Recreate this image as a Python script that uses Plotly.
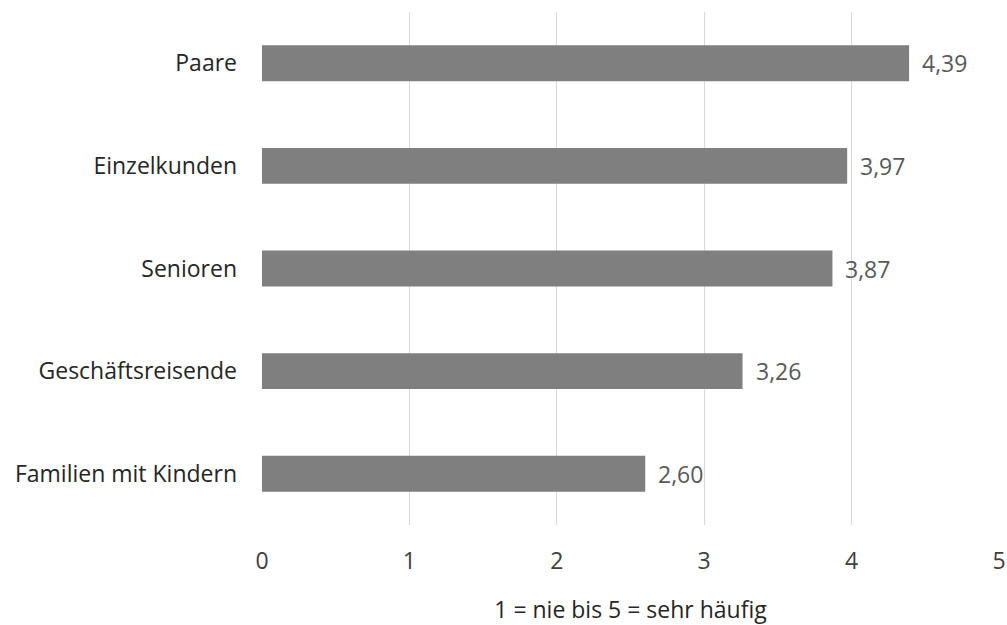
import plotly.graph_objects as go

categories = ["Familien mit Kindern", "Geschäftsreisende", "Senioren", "Einzelkunden", "Paare"]
values = [2.60, 3.26, 3.87, 3.97, 4.39]
x_ticks = [0, 1, 2, 3, 4, 5]
x_title = "1 = nie bis 5 = sehr häufig"

FONT = "Open Sans"
SIZE = 23

fig = go.Figure(
    go.Bar(
        x=values,
        y=categories,
        orientation="h",
        marker=dict(color="#7f7f7f", line=dict(width=0)),
        hoverinfo="skip",
    )
)

# value labels to the right of each bar, German decimal comma
for cat, v in zip(categories, values):
    fig.add_annotation(
        x=v, y=cat, xref="x", yref="y",
        text=f"{v:.2f}".replace(".", ","),
        showarrow=False, xanchor="left", yanchor="middle",
        xshift=11,
        font=dict(family=FONT, size=SIZE, color="#595959"),
    )

fig.update_layout(
    width=1007, height=625,
    margin=dict(l=262, r=8, t=12, b=100),
    paper_bgcolor="white", plot_bgcolor="white",
    bargap=0.65,
    showlegend=False,
    font=dict(family=FONT, size=SIZE, color="#404040"),
)

fig.update_xaxes(
    range=[0, 5],
    automargin=False,
    tickvals=x_ticks,
    ticktext=[str(t) for t in x_ticks],
    showgrid=True, gridcolor="#d9d9d9", gridwidth=1,
    zeroline=False, showline=False,
    ticks="", ticklabelstandoff=20,
    ticklabeloverflow="allow",
    tickfont=dict(family=FONT, size=SIZE, color="#404040"),
    title=dict(text=x_title, font=dict(family=FONT, size=SIZE, color="#262626"), standoff=31),
)

fig.update_yaxes(
    automargin=False,
    showgrid=False, zeroline=False, showline=False,
    ticks="", ticklabelstandoff=24,
    tickfont=dict(family=FONT, size=SIZE, color="#262626"),
)

fig.write_html("out.html")
